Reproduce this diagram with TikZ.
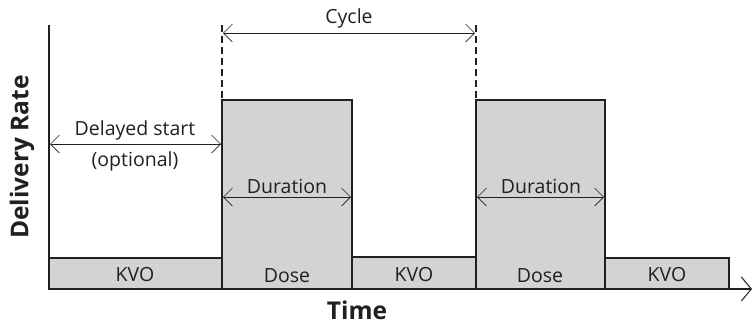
\documentclass[tikz,border=0pt]{standalone}
\usepackage{fontspec}
\setmainfont{Open Sans}
\usetikzlibrary{arrows.meta}
\definecolor{ink}{HTML}{231F20}
\definecolor{barfill}{HTML}{D1D3D4}
\tikzset{
  bar/.style={draw=ink, fill=barfill, line width=1.3pt},
  axisline/.style={draw=ink, line width=1.3pt},
  dim/.style={draw=ink, line width=0.6pt, {Straight Barb[length=9pt,width=18pt]}-{Straight Barb[length=9pt,width=18pt]}},
  dashline/.style={draw=ink, line width=1.3pt, dash pattern=on 7pt off 4pt},
  lbl/.style={font=\fontsize{19.5}{22}\selectfont, text=ink, inner sep=0pt},
  axlbl/.style={font=\fontsize{24.5}{28}\selectfont\bfseries, text=ink, inner sep=0pt}
}
\begin{document}
\begin{tikzpicture}[x=1pt,y=-1pt]
\useasboundingbox (0,0) rectangle (756,325);
% bars
\draw[bar] (49,258) rectangle (222,289);
\draw[bar] (222,100) rectangle (352,289);
\draw[bar] (352,257) rectangle (476,289);
\draw[bar] (476,100) rectangle (605,289);
\draw[bar] (605,258) rectangle (729,289);
% axes
\coordinate (ytop) at (49,25);
\coordinate (orig) at (49,289);
\coordinate (xend) at (752,289);
\draw[axisline] (ytop) -- (orig);
\draw[axisline, -{Straight Barb[length=10pt,width=24pt,line width=1pt]}] (orig) -- (xend);
% dashed
\coordinate (d1t) at (222,25);
\coordinate (d1b) at (222,100);
\coordinate (d2t) at (476,25);
\coordinate (d2b) at (476,100);
\draw[dashline] (d1t) -- (d1b);
\draw[dashline] (d2t) -- (d2b);
% dimension arrows
\coordinate (c1) at (223,33);
\coordinate (c2) at (475,33);
\draw[dim] (c1) -- (c2);
\node[lbl] (cyc) at (349,18) {Cycle};
\coordinate (ds1) at (50,144);
\coordinate (ds2) at (221,144);
\draw[dim] (ds1) -- (ds2);
\node[lbl] (dst) at (135,130) {Delayed start};
\node[lbl] (opt) at (135,161) {(optional)};
\coordinate (u1a) at (223,197);
\coordinate (u1b) at (351,197);
\draw[dim] (u1a) -- (u1b);
\node[lbl] (dur1) at (287,186) {Duration};
\coordinate (u2a) at (477,197);
\coordinate (u2b) at (604,197);
\draw[dim] (u2a) -- (u2b);
\node[lbl] (dur2) at (541,186) {Duration};
% bar labels
\node[lbl] (k1) at (135,275) {KVO};
\node[lbl] (do1) at (287,276) {Dose};
\node[lbl] (k2) at (414,275) {KVO};
\node[lbl] (do2) at (540,276) {Dose};
\node[lbl] (k3) at (667,275) {KVO};
% axis labels
\node[axlbl, rotate=90] (yl) at (22,157) {Delivery Rate};
\node[axlbl] (xl) at (357,310) {Time};
\end{tikzpicture}
\end{document}
